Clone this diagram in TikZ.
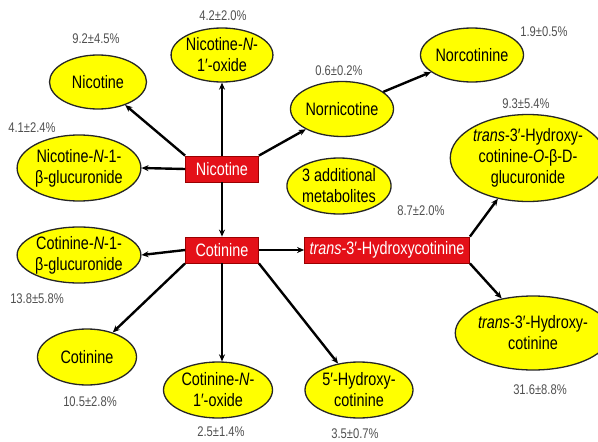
\documentclass[tikz,border=0pt]{standalone}
\usepackage{fontspec}
\setmainfont{Liberation Sans}[FakeStretch=0.8]
\usetikzlibrary{shapes.geometric,arrows.meta}
\definecolor{ylw}{RGB}{255,255,0}
\definecolor{boxred}{RGB}{228,16,24}
\definecolor{pct}{RGB}{80,80,80}
\tikzset{
  met/.style={ellipse, draw=black!85, line width=1.3pt, fill=ylw, inner sep=0pt,
    align=center, font=\fontsize{18}{21}\selectfont},
  keybox/.style={rectangle, draw=red!60!black, line width=0.8pt, fill=boxred, inner sep=0pt,
    text=white, font=\fontsize{18}{21}\selectfont},
  pctlab/.style={text=pct, inner sep=0pt, font=\fontsize{14}{16}\selectfont},
  arr/.style={-{Stealth[length=7pt,width=6pt]}, line width=2.4pt, black}
}
\begin{document}
\begin{tikzpicture}[x=1pt,y=-1pt]
\useasboundingbox (0,0) rectangle (598,442);
% central boxes
\node[keybox, minimum width=73pt, minimum height=26pt] (nic) at (222,169) {Nicotine};
\node[keybox, minimum width=73pt, minimum height=26pt] (cot) at (222,250) {Cotinine};
\node[keybox, minimum width=165pt, minimum height=26pt] (thc) at (387,250) {\textit{trans}-3′-Hydroxycotinine};
% ellipses
\node[met, minimum width=97pt, minimum height=54pt] (e1) at (98,82) {Nicotine};
\node[met, minimum width=97pt, minimum height=54pt] (e2) at (222,55) {Nicotine-\textit{N}-\\1′-oxide};
\node[met, minimum width=115pt, minimum height=66pt] (e3) at (79,168) {Nicotine-\textit{N}-1-\\β-glucuronide};
\node[met, minimum width=97pt, minimum height=55pt] (e4) at (342,109) {Nornicotine};
\node[met, minimum width=96pt, minimum height=54pt] (e5) at (472,55) {Norcotinine};
\node[met, minimum width=102pt, minimum height=56pt] (e6) at (339,186) {3 additional\\metabolites};
\node[met, minimum width=140pt, minimum height=87pt] (e7) at (528,158) {\textit{trans}-3′-Hydroxy-\\cotinine-\textit{O}-β-D-\\glucuronide};
\node[met, minimum width=115pt, minimum height=56pt] (e8) at (79,255) {Cotinine-\textit{N}-1-\\β-glucuronide};
\node[met, minimum width=99pt, minimum height=56pt] (e9) at (87,357) {Cotinine};
\node[met, minimum width=109pt, minimum height=56pt] (e10) at (218,390) {Cotinine-\textit{N}-\\1′-oxide};
\node[met, minimum width=108pt, minimum height=56pt] (e11) at (359,390) {5′-Hydroxy-\\cotinine};
\node[met, minimum width=127pt, minimum height=74pt] (e12) at (533,333) {\textit{trans}-3′-Hydroxy-\\cotinine};
% percentages
\node[pctlab] (p1) at (96,39) {9.2±4.5\%};
\node[pctlab] (p2) at (223,16) {4.2±2.0\%};
\node[pctlab] (p3) at (32,128) {4.1±2.4\%};
\node[pctlab] (p4) at (339,71) {0.6±0.2\%};
\node[pctlab] (p5) at (544,32) {1.9±0.5\%};
\node[pctlab] (p6) at (526,104) {9.3±5.4\%};
\node[pctlab] (p7) at (421,211) {8.7±2.0\%};
\node[pctlab] (p8) at (37,299) {13.8±5.8\%};
\node[pctlab] (p9) at (90,402) {10.5±2.8\%};
\node[pctlab] (p10) at (221,432) {2.5±1.4\%};
\node[pctlab] (p11) at (540,390) {31.6±8.8\%};
\node[pctlab] (p12) at (355,434) {3.5±0.7\%};
% arrows
\draw[arr] (nic.north west) -- (e1);
\draw[arr] (nic.north) -- (e2.south);
\draw[arr] (nic.west) -- (e3.east);
\draw[arr] (nic.north east) -- (e4);
\draw[arr] (e4) -- (e5);
\draw[arr] (nic.south) -- (cot.north);
\draw[arr] (cot.west) -- (e8.east);
\draw[arr] (cot.south west) -- (e9);
\draw[arr] (cot.south) -- (e10.north -| cot.south);
\draw[arr] (cot.south east) -- (e11);
\draw[arr] (cot.east) -- (thc.west);
\draw[arr] (thc.north east) -- (e7);
\draw[arr] (thc.south east) -- (e12);
\end{tikzpicture}
\end{document}
